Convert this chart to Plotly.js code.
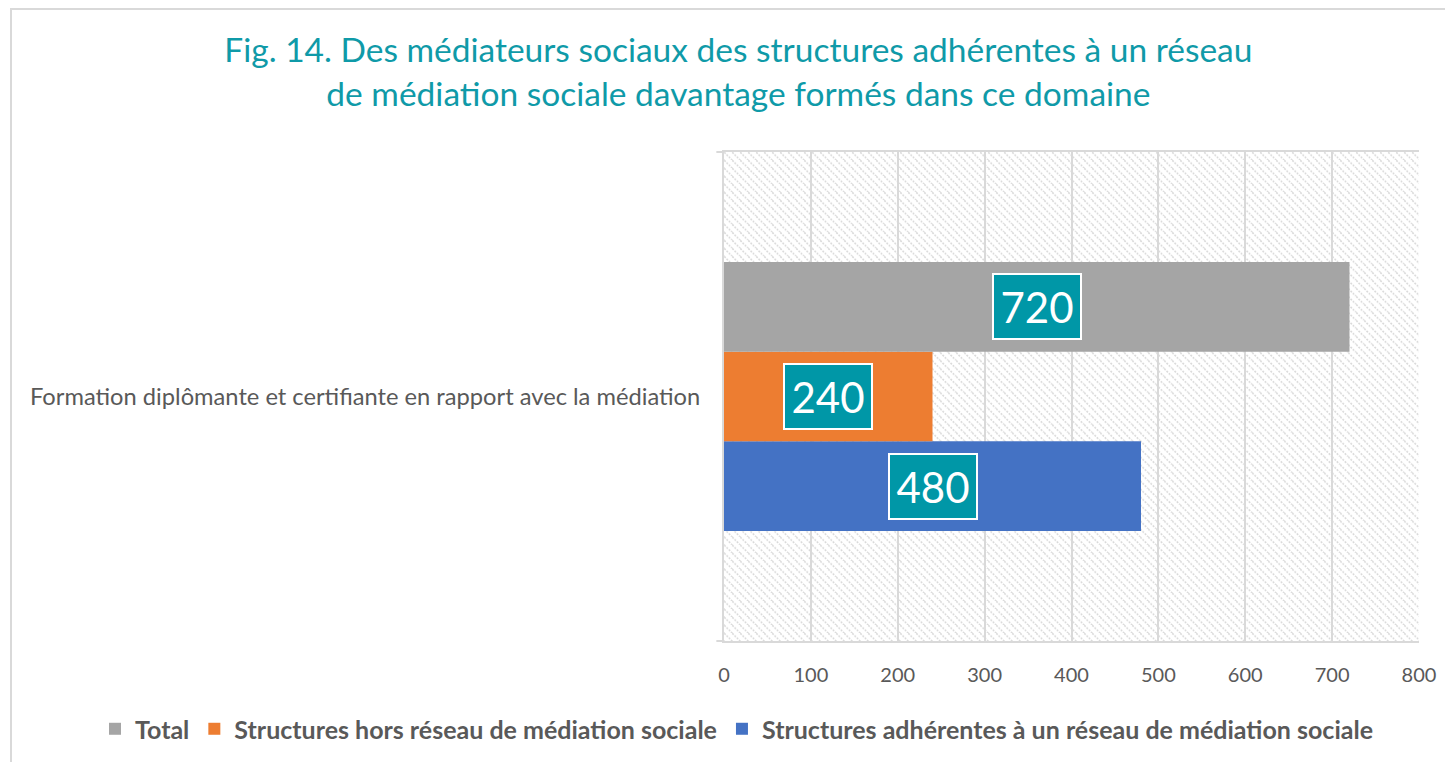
<!DOCTYPE html>
<html>
<head>
<meta charset="utf-8">
<script src="https://cdn.plot.ly/plotly-3.0.1.min.js"></script>
<style>
html,body{margin:0;padding:0;background:#fff;}
#wrap{position:relative;width:1445px;height:762px;overflow:hidden;}
#chart{width:1445px;height:762px;}
#frame{position:absolute;left:10px;top:8px;width:1460px;height:780px;border:2px solid #d9d9d9;pointer-events:none;box-sizing:border-box;}
</style>
</head>
<body>
<div id="wrap"><div id="chart"></div><div id="frame"></div></div>
<script>
const categories = ["Formation diplômante et certifiante en rapport avec la médiation"];
const seriesNames = ["Structures adhérentes à un réseau de médiation sociale", "Structures hors réseau de médiation sociale", "Total"];
const seriesValues = [[480], [240], [720]];
const seriesColors = ["#4472c4", "#ed7d31", "#a5a5a5"];
const xTicks = [0, 100, 200, 300, 400, 500, 600, 700, 800];

const FONT = "Lato, 'Open Sans', sans-serif";
const TEXTC = "#595959";

const traces = seriesNames.map((n, i) => ({
  type: "bar",
  orientation: "h",
  name: n,
  y: categories,
  x: seriesValues[i],
  marker: {color: seriesColors[i]},
  hoverinfo: "x+name"
}));

const nT = seriesNames.length;
const bargap = 0.45;
const groupW = 1 - bargap;
const annotations = [];
seriesValues.forEach((vals, i) => {
  vals.forEach((v, j) => {
    const off = -groupW / 2 + groupW / nT * (i + 0.5);
    annotations.push({
      x: v / 2, y: j + off, xref: "x", yref: "y",
      text: String(v), showarrow: false,
      font: {family: FONT, size: 42, color: "#ffffff"},
      bgcolor: "#0097a7", bordercolor: "#ffffff", borderwidth: 2,
      borderpad: 0, width: 86, height: 63
    });
  });
});

const svg = '<svg xmlns="http://www.w3.org/2000/svg" width="695" height="488">' +
  '<defs><pattern id="p" width="8" height="8" patternUnits="userSpaceOnUse">' +
  '<path d="M-2,-2 L10,10 M-10,-2 L2,10 M6,-2 L18,10" stroke="#dadada" stroke-width="1.6" stroke-dasharray="2,1.2"/>' +
  '</pattern></defs><rect width="695" height="488" fill="url(#p)"/></svg>';
const imgSrc = "data:image/svg+xml;base64," + btoa(svg);

const layout = {
  width: 1445, height: 762,
  margin: {l: 724, r: 26, t: 152, b: 121, autoexpand: false},
  paper_bgcolor: "rgba(0,0,0,0)",
  plot_bgcolor: "rgba(0,0,0,0)",
  barmode: "group",
  bargap: bargap,
  bargroupgap: 0,
  font: {family: FONT, color: TEXTC},
  title: {
    text: "Fig. 14. Des médiateurs sociaux des structures adhérentes à un réseau<br>de médiation sociale davantage formés dans ce domaine",
    font: {family: FONT, size: 33.5, color: "#0f9aa8"},
    x: 0.511, xanchor: "center", xref: "container",
    y: 0.918, yanchor: "middle", yref: "container"
  },
  xaxis: {
    range: [0, 800],
    tickvals: xTicks,
    ticktext: xTicks.map(String),
    showgrid: true, gridcolor: "#d9d9d9", gridwidth: 2,
    zeroline: false,
    showline: true, linecolor: "#d9d9d9", linewidth: 2, mirror: true,
    ticks: "", ticklen: 0,
    tickfont: {family: FONT, size: 20, color: TEXTC},
    ticklabelstandoff: 15,
    automargin: false,
    fixedrange: true
  },
  yaxis: {
    range: [-0.5, 0.5],
    showgrid: false, zeroline: false,
    showline: true, linecolor: "#d9d9d9", linewidth: 2,
    ticks: "",
    tickfont: {family: FONT, size: 23.7, color: TEXTC},
    ticklabelstandoff: 17,
    automargin: false,
    fixedrange: true
  },
  legend: {
    orientation: "h",
    traceorder: "reversed",
    xref: "paper", yref: "paper",
    x: -0.905, xanchor: "left",
    y: -0.18, yanchor: "middle",
    font: {family: FONT, size: 25, color: TEXTC, weight: "bold"},
    itemwidth: 30
  },
  images: [{
    source: imgSrc, xref: "paper", yref: "paper",
    x: 0, y: 1, sizex: 1, sizey: 1, xanchor: "left", yanchor: "top",
    sizing: "stretch", layer: "below"
  }],
  shapes: [
    {type: "line", xref: "paper", yref: "paper", x0: -0.011, x1: 0, y0: 0, y1: 0, line: {color: "#d9d9d9", width: 2}},
    {type: "line", xref: "paper", yref: "paper", x0: -0.011, x1: 0, y0: 1, y1: 1, line: {color: "#d9d9d9", width: 2}}
  ],
  annotations: annotations,
  showlegend: true
};

Plotly.newPlot("chart", traces, layout, {displayModeBar: false, staticPlot: true});
</script>
</body>
</html>
